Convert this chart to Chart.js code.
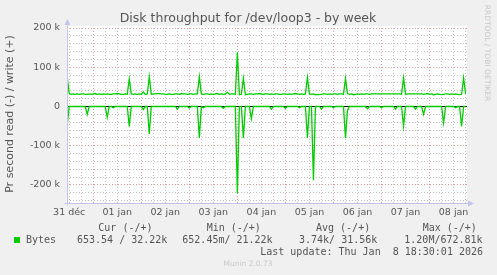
<!DOCTYPE html>
<html>
<head>
<meta charset="utf-8">
<title>Disk throughput for /dev/loop3 - by week</title>
<script src="https://cdn.jsdelivr.net/npm/chart.js@4/dist/chart.umd.min.js"></script>
<style>
    html, body { margin: 0; padding: 0; background: #f0f0f0; }
    canvas { display: block; }
</style>
</head>
<body>
<canvas id="diskChart" width="497" height="275"></canvas>
<script>
// Hours counted from 01 jan 00:00, one sample per hour
const startHour = -13;
const xMin = -13.1;
const xMax = 186.7;

// Day labels, shown at noon of each day
const dayLabels = ['31 déc', '01 jan', '02 jan', '03 jan', '04 jan', '05 jan', '06 jan', '07 jan', '08 jan'];

// Y axis labels (values in k)
const yLabelValues = [-200, -100, 0, 100, 200];
const yLabelTexts = ['-200 k', '-100 k', '0', '100 k', '200 k'];

// Write (+), bytes per second in k
const writeK = [
    74, 33, 31, 32, 31, 32, 31, 32, 32, 31, 31, 32, 31, 32, 33, 31, 32, 31, 32, 31,
    32, 31, 31, 32, 32, 33, 32, 31, 31, 32, 31, 70, 32, 31, 32, 31, 32, 31, 37, 31,
    32, 76, 31, 32, 32, 33, 33, 32, 32, 31, 31, 32, 31, 31, 32, 32, 31, 33, 32, 32,
    31, 32, 32, 31, 32, 32, 76, 32, 31, 32, 32, 31, 32, 31, 32, 33, 31, 32, 31, 32,
    36, 31, 32, 32, 31, 138, 30, 31, 72, 30, 31, 32, 32, 31, 32, 32, 33, 32, 31, 32,
    32, 31, 32, 31, 32, 32, 31, 31, 32, 32, 31, 32, 31, 32, 33, 32, 31, 32, 31, 32,
    74, 32, 31, 32, 30, 31, 30, 31, 32, 32, 31, 32, 31, 32, 32, 31, 32, 32, 31, 71,
    33, 31, 32, 30, 31, 32, 31, 32, 31, 32, 32, 31, 32, 32, 32, 32, 32, 32, 32, 32,
    32, 32, 32, 32, 32, 32, 32, 31, 73, 31, 32, 32, 32, 32, 32, 32, 32, 32, 31, 32,
    33, 31, 32, 30, 31, 32, 31, 30, 31, 32, 32, 31, 32, 31, 32, 31, 30, 31, 73, 32
];

// Read (-), bytes per second in k
const readK = [
    47, 0, 0, 0, 0, 0, 0, 0, 0, 0, 20, 0, 0, 0, 0, 0, 0, 0, 0, 0,
    28, 0, 0, 3, 0, 0, 0, 0, 0, 0, 0, 51, 0, 0, 0, 0, 0, 0, 8, 0,
    0, 70, 0, 0, 0, 0, 0, 0, 0, 0, 0, 0, 0, 0, 0, 7, 0, 0, 0, 0,
    0, 4, 0, 0, 0, 0, 80, 0, 3, 0, 0, 0, 0, 0, 0, 0, 0, 0, 5, 0,
    0, 0, 0, 0, 0, 221, 0, 0, 80, 0, 0, 0, 31, 0, 0, 0, 0, 0, 0, 0,
    0, 0, 7, 0, 0, 0, 0, 0, 0, 5, 0, 0, 0, 0, 0, 0, 3, 0, 0, 0,
    80, 0, 0, 188, 0, 0, 0, 7, 0, 0, 0, 0, 0, 3, 0, 0, 0, 0, 0, 80,
    10, 0, 0, 0, 0, 0, 0, 0, 0, 0, 6, 0, 0, 0, 0, 0, 0, 3, 0, 0,
    0, 0, 0, 0, 7, 0, 0, 0, 50, 0, 0, 0, 0, 0, 7, 0, 0, 0, 20, 0,
    0, 0, 0, 0, 0, 0, 0, 0, 42, 0, 0, 0, 0, 0, 3, 0, 0, 51, 0, 0
];

// Legend table
const legendHeads = ['Cur (-/+)', 'Min (-/+)', 'Avg (-/+)', 'Max (-/+)'];
const legendValues = ['653.54 / 32.22k', '652.45m/ 21.22k', '3.74k/ 31.56k', '1.20M/672.81k'];

const green = '#00cc00';
const textColor = '#555555';
const axisColor = '#c4c4ec';
const majorGrid = 'rgba(210,90,90,0.6)';
const minorGrid = 'rgba(130,130,130,0.5)';
const sans = '"DejaVu Sans", sans-serif';
const mono = '"DejaVu Sans Mono", monospace';

const writePoints = writeK.map((v, i) => ({ x: startHour + i, y: v }));
const readPoints = readK.map((v, i) => ({ x: startHour + i, y: -v }));

// Background, zero line, axes and all the Munin texts
const muninDecor = {
    id: 'muninDecor',
    beforeDraw(chart) {
        const { ctx, chartArea } = chart;
        ctx.save();
        ctx.fillStyle = '#ffffff';
        ctx.fillRect(chartArea.left, chartArea.top - 2, chartArea.right - chartArea.left, chartArea.bottom - chartArea.top + 2);
        ctx.restore();
    },
    beforeDatasetsDraw(chart) {
        const { ctx, chartArea } = chart;
        const y0 = Math.round(chart.scales.y.getPixelForValue(0)) + 0.5;
        ctx.save();
        ctx.strokeStyle = '#000000';
        ctx.lineWidth = 1;
        ctx.beginPath();
        ctx.moveTo(chartArea.left, y0);
        ctx.lineTo(chartArea.right, y0);
        ctx.stroke();
        ctx.restore();
    },
    afterDraw(chart) {
        const { ctx, chartArea } = chart;
        const left = chartArea.left + 0.5;
        const bottom = chartArea.bottom + 0.5;
        ctx.save();

        // axis lines with arrows
        ctx.strokeStyle = axisColor;
        ctx.fillStyle = axisColor;
        ctx.lineWidth = 1;
        ctx.beginPath();
        ctx.moveTo(left, bottom + 2);
        ctx.lineTo(left, chartArea.top - 5);
        ctx.moveTo(left - 3, bottom);
        ctx.lineTo(chartArea.right + 2, bottom);
        ctx.stroke();
        ctx.beginPath();
        ctx.moveTo(left - 3, chartArea.top - 3);
        ctx.lineTo(left + 3, chartArea.top - 3);
        ctx.lineTo(left, chartArea.top - 9);
        ctx.closePath();
        ctx.fill();
        ctx.beginPath();
        ctx.moveTo(chartArea.right + 1, bottom - 3);
        ctx.lineTo(chartArea.right + 1, bottom + 3);
        ctx.lineTo(chartArea.right + 7, bottom);
        ctx.closePath();
        ctx.fill();

        // title
        ctx.fillStyle = textColor;
        ctx.font = '12.5px ' + sans;
        ctx.textAlign = 'center';
        ctx.textBaseline = 'middle';
        ctx.fillText('Disk throughput for /dev/loop3 - by week', 248, 19);

        // vertical axis title
        ctx.save();
        ctx.translate(10, 114);
        ctx.rotate(-Math.PI / 2);
        ctx.font = '11px ' + sans;
        ctx.fillText('Pr second read (-) / write (+)', 0, 0);
        ctx.restore();

        // rrdtool credit on the right
        ctx.save();
        ctx.translate(487, 53);
        ctx.rotate(Math.PI / 2);
        ctx.fillStyle = '#c8c8c8';
        ctx.font = '7.5px ' + sans;
        ctx.fillText('RRDTOOL / TOBI OETIKER', 0, 0);
        ctx.restore();

        // legend
        ctx.font = '10px ' + mono;
        ctx.textAlign = 'left';
        const headX = [98.3, 206.7, 316, 422.7];
        const valueX = [77, 182.3, 299, 404.3];
        legendHeads.forEach((t, i) => ctx.fillText(t, headX[i], 228));
        ctx.fillStyle = green;
        ctx.fillRect(14, 237, 6, 6);
        ctx.fillStyle = textColor;
        ctx.fillText('Bytes', 26, 240);
        legendValues.forEach((t, i) => ctx.fillText(t, valueX[i], 240));
        ctx.textAlign = 'right';
        ctx.fillText('Last update: Thu Jan  8 18:30:01 2026', 483, 252);

        // footer
        ctx.textAlign = 'center';
        ctx.fillStyle = '#c8c8c8';
        ctx.font = '7.5px ' + sans;
        ctx.fillText('Munin 2.0.73', 248, 264);
        ctx.restore();
    }
};

const ctx = document.getElementById('diskChart').getContext('2d');
new Chart(ctx, {
    type: 'line',
    data: {
        datasets: [
            { label: 'write', data: writePoints, borderColor: green, borderWidth: 1.3, pointRadius: 0, fill: false, tension: 0 },
            { label: 'read', data: readPoints, borderColor: green, borderWidth: 1.3, pointRadius: 0, fill: false, tension: 0 }
        ]
    },
    options: {
        responsive: false,
        animation: false,
        layout: { padding: { top: 28, right: 30, left: 0, bottom: 0 } },
        plugins: {
            legend: { display: false },
            tooltip: { enabled: false },
            title: { display: false }
        },
        scales: {
            x: {
                type: 'linear',
                min: xMin,
                max: xMax,
                afterBuildTicks: (scale) => {
                    const ticks = [];
                    for (let h = -12; h <= 186; h += 6) ticks.push({ value: h });
                    scale.ticks = ticks;
                },
                afterFit: (scale) => { scale.height = 72; },
                grid: {
                    drawTicks: false,
                    lineWidth: 1,
                    color: (c) => (c.tick && c.tick.value % 24 === 0) ? majorGrid : minorGrid
                },
                border: { display: false, dash: [1, 2] },
                ticks: {
                    autoSkip: false,
                    maxRotation: 0,
                    padding: 4,
                    color: textColor,
                    font: { family: sans, size: 9.5 },
                    callback: (value) => {
                        if ((value + 12) % 24 !== 0) return '';
                        return dayLabels[(value + 12) / 24] || '';
                    }
                }
            },
            y: {
                type: 'linear',
                min: -246,
                max: 200,
                afterBuildTicks: (scale) => {
                    const ticks = [];
                    for (let v = -240; v <= 200; v += 20) ticks.push({ value: v });
                    scale.ticks = ticks;
                },
                afterFit: (scale) => { scale.width = 67; },
                grid: {
                    drawTicks: false,
                    lineWidth: 1,
                    color: (c) => (c.tick && c.tick.value % 100 === 0) ? majorGrid : minorGrid
                },
                border: { display: false, dash: [1, 2] },
                ticks: {
                    autoSkip: false,
                    padding: 7,
                    color: textColor,
                    font: { family: sans, size: 9.5 },
                    callback: (value) => {
                        const i = yLabelValues.indexOf(value);
                        return i >= 0 ? yLabelTexts[i] : '';
                    }
                }
            }
        }
    },
    plugins: [muninDecor]
});
</script>
</body>
</html>
